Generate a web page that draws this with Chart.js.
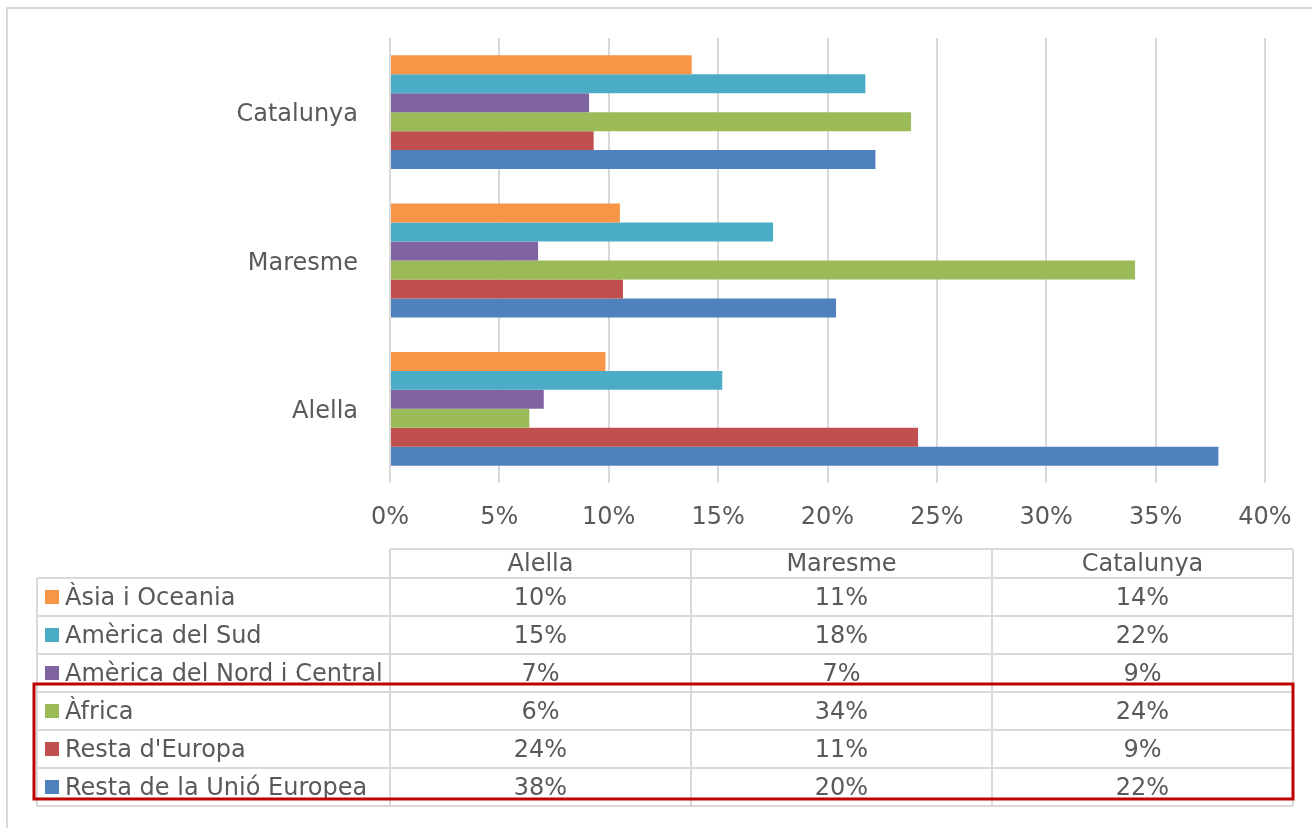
<!DOCTYPE html>
<html>
<head>
<meta charset="utf-8">
<script src="https://cdn.jsdelivr.net/npm/chart.js@4"></script>
<style>
  body { margin: 0; background: #fff; }
  canvas { display: block; }
</style>
</head>
<body>
<canvas id="myChart" width="1312" height="828"></canvas>
<script>
let ctx = document.getElementById('myChart').getContext('2d');

// categories (table column order; chart shows them bottom-up)
let places = ["Alella", "Maresme", "Catalunya"];

let seriesNames = ["Àsia i Oceania", "Amèrica del Sud", "Amèrica del Nord i Central", "Àfrica", "Resta d'Europa", "Resta de la Unió Europea"];
let seriesColors = ['#F79646', '#4BACC6', '#8064A2', '#9BBB59', '#C0504D', '#4F81BD'];

// percentages
let asia = [9.85, 10.51, 13.79];
let sud = [15.19, 17.51, 21.73];
let nord = [7.03, 6.77, 9.10];
let africa = [6.37, 34.06, 23.82];
let restaEuropa = [24.14, 10.65, 9.31];
let restaUE = [37.87, 20.39, 22.19];

let seriesValues = [asia, sud, nord, africa, restaEuropa, restaUE];

let fontFamily = "'DejaVu Sans', Verdana, sans-serif";
let textColor = '#595959';
let lineColor = '#d9d9d9';

// data table under the chart + frame + red highlight box
let tablePlugin = {
    id: 'dataTable',
    beforeDraw(chart) {
        let c = chart.ctx;
        c.save();
        c.fillStyle = '#fff';
        c.fillRect(0, 0, chart.width, chart.height);
        c.restore();
    },
    afterDraw(chart) {
        let c = chart.ctx;
        let colX = [390, 691, 992, 1293];
        let leftX = 37;
        let headTop = 549;
        let headH = 29;
        let rowH = 38;
        let bottom = headTop + headH + rowH * seriesNames.length;

        c.save();
        // outer frame (top and left only visible)
        c.strokeStyle = lineColor;
        c.lineWidth = 2;
        c.beginPath();
        c.moveTo(7, 828);
        c.lineTo(7, 8);
        c.lineTo(1312, 8);
        c.stroke();

        // table grid
        c.beginPath();
        c.moveTo(colX[0], headTop);
        c.lineTo(colX[3], headTop);
        for (let r = 0; r <= seriesNames.length; r++) {
            let y = headTop + headH + r * rowH;
            c.moveTo(leftX, y);
            c.lineTo(colX[3], y);
        }
        c.moveTo(leftX, headTop + headH);
        c.lineTo(leftX, bottom);
        colX.forEach(function (x) {
            c.moveTo(x, headTop);
            c.lineTo(x, bottom);
        });
        c.stroke();

        c.font = '24px ' + fontFamily;
        c.fillStyle = textColor;
        c.textBaseline = 'middle';
        c.textAlign = 'center';
        places.forEach(function (p, i) {
            c.fillText(p, (colX[i] + colX[i + 1]) / 2, headTop + headH / 2 + 1);
        });

        seriesNames.forEach(function (name, r) {
            let cy = headTop + headH + r * rowH + rowH / 2;
            c.fillStyle = seriesColors[r];
            c.fillRect(45, cy - 7, 14, 14);
            c.fillStyle = textColor;
            c.textAlign = 'left';
            c.fillText(name, 65, cy + 2);
            c.textAlign = 'center';
            seriesValues[r].forEach(function (v, i) {
                c.fillText(Math.round(v) + '%', (colX[i] + colX[i + 1]) / 2, cy + 2);
            });
        });

        // red highlight box
        c.strokeStyle = '#C00000';
        c.lineWidth = 3;
        c.strokeRect(34, 684, 1259, 115);
        c.restore();
    }
};

let chart = new Chart(ctx, {
    type: 'bar',
    data: {
        labels: places,
        datasets: seriesNames.map(function (name, i) {
            return {
                label: name,
                data: seriesValues[i],
                backgroundColor: seriesColors[i],
                borderWidth: 0,
                barPercentage: 1,
                categoryPercentage: 0.767
            };
        })
    },
    options: {
        indexAxis: 'y',
        responsive: false,
        animation: false,
        layout: {
            padding: { left: 0, top: 38, right: 47, bottom: 285 }
        },
        plugins: {
            legend: { display: false },
            tooltip: { enabled: false }
        },
        scales: {
            x: {
                min: 0,
                max: 40,
                afterFit: function (scale) { scale.height = 60; },
                ticks: {
                    stepSize: 5,
                    padding: 20,
                    color: textColor,
                    font: { family: fontFamily, size: 24 },
                    maxRotation: 0,
                    callback: function (v) { return v + '%'; }
                },
                grid: { color: lineColor, lineWidth: 2, drawTicks: false },
                border: { display: false }
            },
            y: {
                reverse: true,
                afterFit: function (scale) {
                    scale.width = 390;
                    scale.paddingTop = 0;
                    scale.paddingBottom = 0;
                },
                ticks: {
                    padding: 32,
                    labelOffset: 3,
                    color: textColor,
                    font: { family: fontFamily, size: 24 }
                },
                grid: { display: false, drawTicks: false },
                border: { display: false }
            }
        }
    },
    plugins: [tablePlugin]
});
</script>
</body>
</html>
